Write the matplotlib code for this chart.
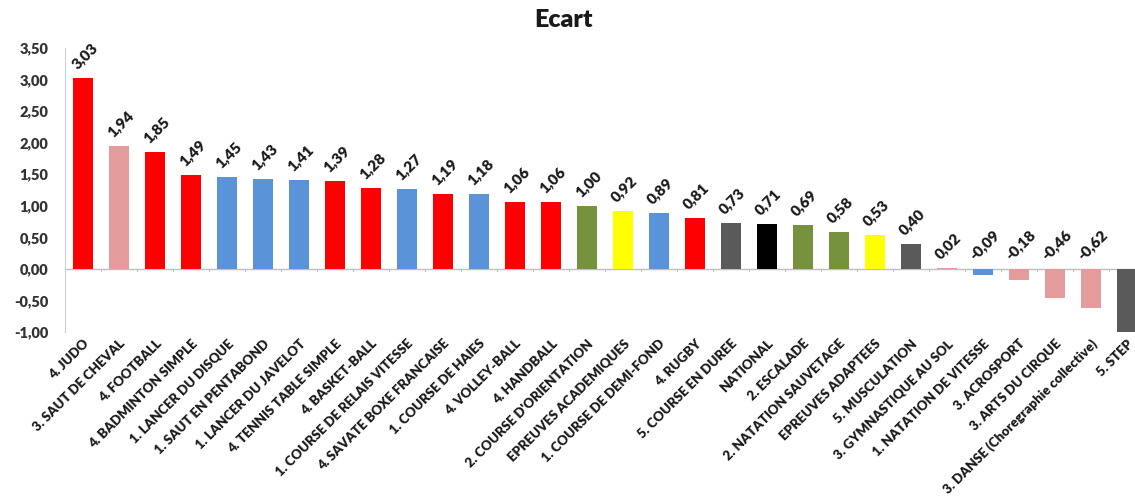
import numpy as np
import matplotlib
matplotlib.use("Agg")
import matplotlib.pyplot as plt
from matplotlib.ticker import FuncFormatter

plt.rcParams['font.family'] = ['Lato', 'DejaVu Sans']

categories = [
    "4. JUDO", "3. SAUT DE CHEVAL", "4. FOOTBALL", "4. BADMINTON SIMPLE",
    "1. LANCER DU DISQUE", "1. SAUT EN PENTABOND", "1. LANCER DU JAVELOT",
    "4. TENNIS TABLE SIMPLE", "4. BASKET-BALL", "1. COURSE DE RELAIS VITESSE",
    "4. SAVATE BOXE FRANCAISE", "1. COURSE DE HAIES", "4. VOLLEY-BALL",
    "4. HANDBALL", "2. COURSE D'ORIENTATION", "EPREUVES ACADEMIQUES",
    "1. COURSE DE DEMI-FOND", "4. RUGBY", "5. COURSE EN DUREE", "NATIONAL",
    "2. ESCALADE", "2. NATATION SAUVETAGE", "EPREUVES ADAPTEES",
    "5. MUSCULATION", "3. GYMNASTIQUE AU SOL", "1. NATATION DE VITESSE",
    "3. ACROSPORT", "3. ARTS DU CIRQUE", "3. DANSE (Choregraphie collective)",
    "5. STEP",
]
values = [3.03, 1.94, 1.85, 1.49, 1.45, 1.43, 1.41, 1.39, 1.28, 1.27,
          1.19, 1.18, 1.06, 1.06, 1.00, 0.92, 0.89, 0.81, 0.73, 0.71,
          0.69, 0.58, 0.53, 0.40, 0.02, -0.09, -0.18, -0.46, -0.62, -1.10]
groups = ["4", "3", "4", "4", "1", "1", "1", "4", "4", "1",
          "4", "1", "4", "4", "2", "E", "1", "4", "5", "N",
          "2", "2", "E", "5", "3", "1", "3", "3", "3", "5"]
show_label = [True] * 29 + [False]

group_colors = {"1": "#5B93D8", "2": "#76923C", "3": "#E49B9B", "4": "#FF0000",
                "5": "#5A5A5A", "E": "#FFFF00", "N": "#000000"}
colors = [group_colors[g] for g in groups]

W, H = 1135, 504
fig = plt.figure(figsize=(W / 100, H / 100), dpi=100)
ax = fig.add_axes([65 / W, 1 - 332 / H, (1145 - 65) / W, (332 - 48) / H])

x = np.arange(len(values))
bars = ax.bar(x, values, width=0.55, color=colors, zorder=2)

ax.set_xlim(-0.5, len(values) - 0.5)
ax.set_ylim(-1.0, 3.5)

for xi, v, show in zip(x, values, show_label):
    if not show:
        continue
    ax.annotate(f"{v:.2f}".replace(".", ","), (xi, max(v, 0)),
                xytext=(1, 5), textcoords="offset points",
                ha="center", va="bottom", rotation=45,
                fontsize=11, fontweight="heavy", color="#1a1a1a")

# zero line with category tick marks
ax.axhline(0, color="#BFBFBF", lw=1, zorder=1)
for b in np.arange(-0.5, len(values), 1.0):
    ax.plot([b, b], [0, -0.04], color="#BFBFBF", lw=0.8, zorder=1)

ax.set_yticks(np.arange(-1.0, 3.51, 0.5))
ax.yaxis.set_major_formatter(FuncFormatter(lambda v, p: f"{v:.2f}".replace(".", ",")))
ax.tick_params(axis="y", length=0, pad=12, labelsize=10.5, labelcolor="#333333")
for t in ax.get_yticklabels():
    t.set_fontweight("heavy")

ax.set_xticks(x)
ax.set_xticklabels(categories, rotation=45, ha="right", rotation_mode="anchor",
                   fontsize=9.5, fontweight="heavy", color="#1a1a1a")
ax.tick_params(axis="x", length=0, pad=4)

for s in ["top", "right", "bottom"]:
    ax.spines[s].set_visible(False)
ax.spines["left"].set_color("#D0D0D0")

fig.text(563 / W, 1 - 20 / H, "Ecart", ha="center", va="center",
         fontsize=18, fontweight="heavy", color="#1a1a1a")

fig.savefig("out.png", dpi=100)
